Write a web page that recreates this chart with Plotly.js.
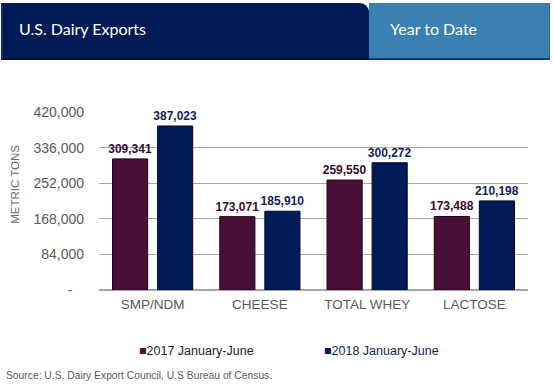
<!DOCTYPE html>
<html>
<head>
<meta charset="utf-8">
<script src="https://cdn.plot.ly/plotly-3.0.1.min.js"></script>
<style>
  html, body { margin:0; padding:0; background:#fff; }
  #wrap { position:relative; width:553px; height:388px; overflow:hidden; }
  #chart { position:absolute; left:0; top:0; width:553px; height:388px; }
  #hdrL { position:absolute; left:1px; top:3px; width:368px; height:57px; background:#001b55;
          border-top-right-radius:9px; border-bottom:2px solid #00102f; box-sizing:border-box;
          border-left:2px solid #0e2c6a; }
  #hdrR { position:absolute; left:369px; top:3px; width:181px; height:57px; background:#3a80b2;
          border-bottom:2px solid #0d3a7a; border-right:1px solid #2c6a9a; box-sizing:border-box; }
  .ht { position:absolute; color:#fff; font-family:Lato, "Open Sans", sans-serif; font-size:16px; top:16px; }
</style>
</head>
<body>
<div id="wrap">
  <div id="chart"></div>
  <div id="hdrL"><span class="ht" style="left:16px;">U.S. Dairy Exports</span></div>
  <div id="hdrR"><span class="ht" style="left:21px;">Year to Date</span></div>
</div>
<script>
const categories = ["SMP/NDM", "CHEESE", "TOTAL WHEY", "LACTOSE"];
const series2017 = [309341, 173071, 259550, 173488];
const series2018 = [387023, 185910, 300272, 210198];
const seriesNames = ["2017 January-June", "2018 January-June"];
const yTickVals = [0, 84000, 168000, 252000, 336000, 420000];
const yTickText = ["-\u00a0\u00a0\u00a0", "84,000", "168,000", "252,000", "336,000", "420,000"];
const yTitle = "METRIC TONS";
const sourceText = "Source: U.S. Dairy Export Council, U.S Bureau of Census.";

const col17 = "#4a0f38", col18 = "#001b58";
const lab17 = "#3a0a2c", lab18 = "#0d1f5a";
const fmt = v => v.toLocaleString("en-US");

const traces = [
  { type:"bar", x:categories, y:series2017, name:seriesNames[0],
    marker:{color:col17, line:{color:"#1e0518", width:1}},
    text:series2017.map(fmt), textposition:"outside", cliponaxis:false, constraintext:"none",
    textfont:{family:"Liberation Sans, Arial", size:12, color:lab17, weight:"bold"} },
  { type:"bar", x:categories, y:series2018, name:seriesNames[1],
    marker:{color:col18, line:{color:"#000a26", width:1}},
    text:series2018.map(fmt), textposition:"outside", cliponaxis:false, constraintext:"none",
    textfont:{family:"Liberation Sans, Arial", size:12, color:lab18, weight:"bold"} }
];

const layout = {
  width:553, height:388,
  margin:{l:99, r:25, t:112, b:98},
  paper_bgcolor:"#fff", plot_bgcolor:"#fff",
  showlegend:false,
  barmode:"group", bargap:0.16, bargroupgap:0.22,
  font:{family:"Liberation Sans, Arial", color:"#595959"},
  xaxis:{ tickfont:{size:13.5, color:"#595959"}, showgrid:false, showline:false, zeroline:false,
          ticks:"", ticklabelstandoff:4, fixedrange:true },
  yaxis:{ range:[0,420000], tickvals:yTickVals, ticktext:yTickText,
          tickfont:{size:14, color:"#595959"}, showgrid:true, gridcolor:"#a6a6a6", gridwidth:1.3,
          zeroline:true, zerolinecolor:"#a6a6a6", zerolinewidth:1.3, showline:false,
          ticks:"", ticklabelstandoff:14, fixedrange:true },
  annotations:[
    { text:yTitle, xref:"paper", yref:"paper", x:-0.196, y:0.596, textangle:-90,
      showarrow:false, font:{size:11.5, color:"#6a6a6a"}, xanchor:"center", yanchor:"middle" },
    { text:"<span style='color:"+col17+"'>■</span>"+seriesNames[0], xref:"paper", yref:"paper",
      x:0.0886, y:-0.343, xanchor:"left", yanchor:"middle", showarrow:false,
      font:{size:12.5, color:"#2a1a24"} },
    { text:"<span style='color:"+col18+"'>■</span>"+seriesNames[1], xref:"paper", yref:"paper",
      x:0.52, y:-0.343, xanchor:"left", yanchor:"middle", showarrow:false,
      font:{size:12.5, color:"#0d1f4a"} },
    { text:sourceText, xref:"paper", yref:"paper", x:-0.2214, y:-0.483, xanchor:"left", yanchor:"middle",
      showarrow:false, font:{size:10.3, color:"#5a5a5a"} }
  ]
};

Plotly.newPlot("chart", traces, layout, {displayModeBar:false, staticPlot:true});
</script>
</body>
</html>
